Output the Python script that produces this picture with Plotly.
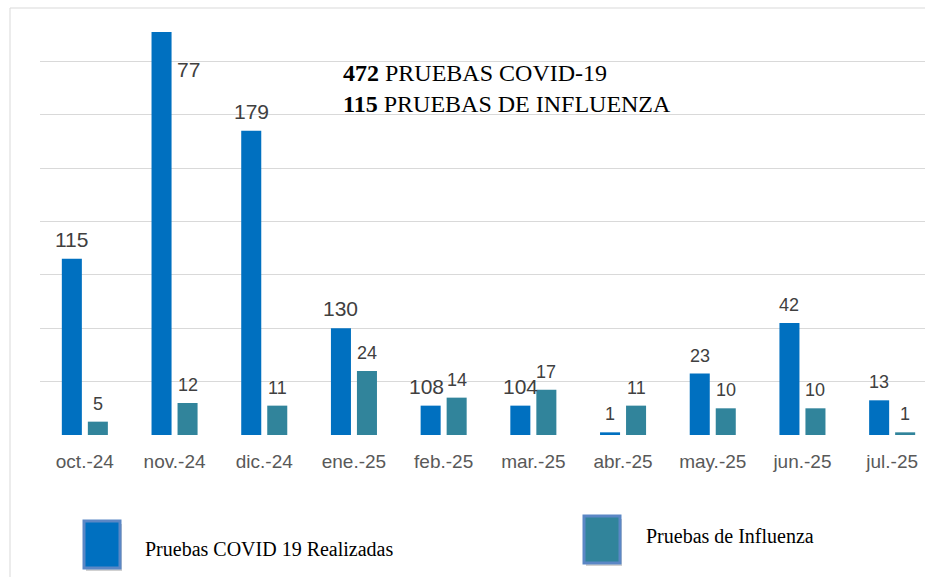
import plotly.graph_objects as go

# ---------------- data ----------------
months = ["oct.-24", "nov.-24", "dic.-24", "ene.-25", "feb.-25",
          "mar.-25", "abr.-25", "may.-25", "jun.-25", "jul.-25"]
covid_tests = [66, 151, 114, 40, 11, 11, 1, 23, 42, 13]
flu_tests = [5, 12, 11, 24, 14, 17, 11, 10, 10, 1]
covid_labels = ["115", "77", "179", "130", "108", "104", "1", "23", "42", "13"]
flu_labels = ["5", "12", "11", "24", "14", "17", "11", "10", "10", "1"]
total_covid = "472"
total_flu = "115"
series_names = ["Pruebas COVID 19 Realizadas", "Pruebas de Influenza"]

# ---------------- style ----------------
W, H = 925, 577
ML, MT, MB = 40, 8, 142
PW, PH = W - ML, H - MT - MB
COL_COVID = "#0070C0"
COL_FLU = "#31849B"
GRID = "#d9d9d9"
SANS = "Liberation Sans, Arial, sans-serif"
SERIF = "Liberation Serif, Times New Roman, serif"
cat_px = 89.7
BAR_OFF = 13

def px(xp):
    return (xp - ML) / PW

def py(yp):
    return (H - MB - yp) / PH

fig = go.Figure()
fig.add_trace(go.Bar(x=list(range(len(months))), y=covid_tests, name=series_names[0],
                     marker=dict(color=COL_COVID, line=dict(width=0)), showlegend=False))
fig.add_trace(go.Bar(x=list(range(len(months))), y=flu_tests, name=series_names[1],
                     marker=dict(color=COL_FLU, line=dict(width=0)), showlegend=False))

annotations = []
# special offsets (xshift, yshift) for some covid labels
covid_special = {1: (27, -51), 4: (-4, 6)}
for i, (v, t) in enumerate(zip(covid_tests, covid_labels)):
    xs, ys = covid_special.get(i, (0, 6))
    size = 21 if i < 6 else 18
    annotations.append(dict(x=i, y=v, text=t, showarrow=False, xref="x", yref="y",
                            xshift=-BAR_OFF + xs, yshift=ys, yanchor="bottom",
                            font=dict(family=SANS, size=size, color="#404040")))
for i, (v, t) in enumerate(zip(flu_tests, flu_labels)):
    annotations.append(dict(x=i, y=v, text=t, showarrow=False, xref="x", yref="y",
                            xshift=BAR_OFF, yshift=6, yanchor="bottom",
                            font=dict(family=SANS, size=18, color="#404040")))

# headline text (two lines in one box)
annotations.append(dict(x=px(341), y=py(88), xref="paper", yref="paper",
                        xanchor="left", yanchor="middle", align="left", showarrow=False,
                        text="<b>" + total_covid + "</b> PRUEBAS COVID-19<br>"
                             "<b>" + total_flu + "</b> PRUEBAS DE INFLUENZA",
                        font=dict(family=SERIF, size=24, color="#000000")))

# legend texts
annotations.append(dict(x=px(143), y=py(549), xref="paper", yref="paper",
                        xanchor="left", yanchor="middle", showarrow=False,
                        text=series_names[0],
                        font=dict(family=SERIF, size=20, color="#000000")))
annotations.append(dict(x=px(644), y=py(536), xref="paper", yref="paper",
                        xanchor="left", yanchor="middle", showarrow=False,
                        text=series_names[1],
                        font=dict(family=SERIF, size=20, color="#000000")))

shapes = []
# chart frame (left and top)
shapes.append(dict(type="line", xref="paper", yref="paper",
                   x0=px(10), x1=px(W), y0=py(8), y1=py(8),
                   line=dict(color=GRID, width=1)))
shapes.append(dict(type="line", xref="paper", yref="paper",
                   x0=px(10), x1=px(10), y0=py(8), y1=py(H),
                   line=dict(color=GRID, width=1)))
# legend squares with shadows
for (x0, y0, x1, y1, fill) in [(84, 521, 120, 568, COL_COVID), (584, 516, 620, 563, COL_FLU)]:
    shapes.append(dict(type="rect", xref="paper", yref="paper",
                       x0=px(x0 + 2), x1=px(x1 + 2), y0=py(y0 + 3), y1=py(y1 + 3),
                       fillcolor="rgba(0,0,0,0.18)", line=dict(width=0)))
    shapes.append(dict(type="rect", xref="paper", yref="paper",
                       x0=px(x0), x1=px(x1), y0=py(y0), y1=py(y1),
                       fillcolor=fill, line=dict(color="#5B87C5", width=3)))

fig.update_layout(
    width=W, height=H,
    margin=dict(l=ML, r=0, t=MT, b=MB, pad=0),
    paper_bgcolor="white", plot_bgcolor="white",
    barmode="group", bargap=0.42, bargroupgap=0.23,
    showlegend=False,
    annotations=annotations,
    shapes=shapes,
    xaxis=dict(range=[-0.5, PW / cat_px - 0.5], tickmode="array",
               tickvals=list(range(len(months))), ticktext=months,
               showgrid=False, zeroline=False, showline=False,
               ticks="outside", ticklen=9, tickcolor="rgba(0,0,0,0)",
               tickfont=dict(family=SANS, size=19, color="#595959")),
    yaxis=dict(range=[0, 160], dtick=20, showgrid=True, gridcolor=GRID, gridwidth=1,
               zeroline=False, showline=False, showticklabels=False, ticks=""),
)

fig.write_html("out.html", config={"displayModeBar": False},
               post_script="document.body.style.margin='0';document.body.style.overflow='hidden';")
